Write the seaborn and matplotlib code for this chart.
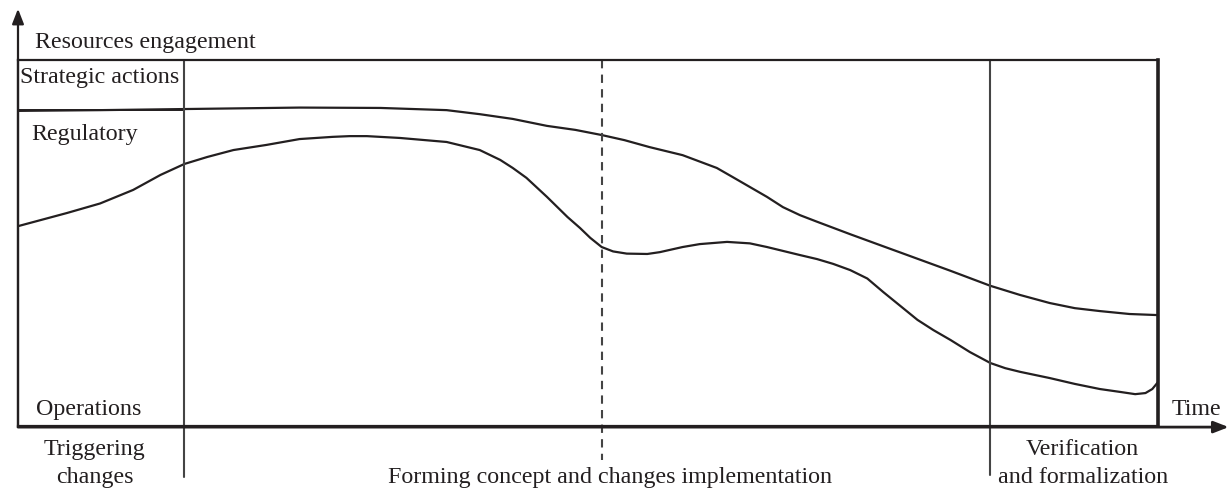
import numpy as np
import pandas as pd
import matplotlib
matplotlib.use("Agg")
import matplotlib.pyplot as plt
import seaborn as sns

# Curves (time 0..100, engagement 0..100 inside the box)
upper_t = [0, 7.2, 14.6, 24.7, 31.8, 37.6, 40.5, 43.4, 46.4, 48.9, 51.2, 53.2,
           55.4, 58.3, 61.3, 62.7, 64.2, 65.7, 67.1, 68.6, 70.1, 73.0, 75.9,
           77.4, 81.8, 85.3, 87.9, 90.5, 92.7, 94.9, 97.5, 100]
upper_v = [86.1, 86.3, 86.6, 87.0, 86.9, 86.3, 85.2, 83.9, 82.0, 80.9, 79.5, 78.1,
           76.2, 74.0, 70.5, 68.0, 65.3, 62.6, 59.8, 57.6, 55.8, 52.4, 49.1,
           47.4, 42.4, 38.3, 35.8, 33.6, 32.2, 31.4, 30.6, 30.3]

lower_t = [0, 4.3, 7.2, 10.1, 12.5, 14.6, 16.6, 18.9, 21.8, 24.7, 27.6, 29.1,
           30.6, 33.5, 37.6, 40.5, 42.3, 43.4, 44.6, 46.4, 48.2, 49.3, 50.2,
           51.2, 52.2, 53.4, 55.2, 56.3, 58.3, 59.8, 62.2, 64.2, 65.7, 68.6,
           70.1, 71.5, 73.0, 74.5, 75.9, 77.4, 78.9, 80.3, 81.8, 83.5, 85.3,
           86.6, 87.9, 90.5, 92.7, 94.9, 96.7, 98.0, 98.9, 99.5, 100]
lower_v = [54.6, 58.2, 60.8, 64.5, 68.6, 71.6, 73.5, 75.4, 76.8, 78.4, 79.0, 79.2,
           79.2, 78.7, 77.6, 75.4, 72.7, 70.5, 67.8, 62.6, 57.1, 54.1, 51.4,
           48.9, 47.7, 47.1, 47.0, 47.5, 48.9, 49.7, 50.3, 49.9, 48.9, 46.7,
           45.6, 44.3, 42.6, 40.3, 36.6, 32.8, 29.0, 26.2, 23.5, 20.2, 17.2,
           15.8, 14.8, 13.1, 11.5, 10.1, 9.3, 8.7, 9.0, 10.1, 12.0]

# Phase boundaries and labels
phase_bounds = [14.6, 51.2, 85.3]
phase_styles = ["-", "--", "-"]
phase_bottoms = [-13.9, -9.3, -13.4]
phase_lines_1 = ["Triggering", "", "Verification"]
phase_lines_2 = ["changes", "Forming concept and changes implementation",
                 "and formalization"]
phase_label_x = [6.7, 51.9, 93.4]

level_labels = ["Strategic actions", "Regulatory", "Operations"]
level_label_x = [0.2, 1.2, 1.6]
level_label_y = [95.3, 79.7, 4.5]

sns.set_style("white")
plt.rcParams["font.family"] = ["Liberation Serif", "DejaVu Serif"]

ink = "#231f20"
fig = plt.figure(figsize=(12.28, 4.88), dpi=100)
ax = fig.add_axes([18 / 1228, 62 / 488, 1140 / 1228, 366 / 488])
ax.set_xlim(0, 100)
ax.set_ylim(0, 100)

df_up = pd.DataFrame({"t": upper_t, "v": upper_v})
df_lo = pd.DataFrame({"t": lower_t, "v": lower_v})
sns.lineplot(data=df_up, x="t", y="v", ax=ax, color=ink, lw=1.6, sort=False,
             solid_joinstyle="round")
sns.lineplot(data=df_lo, x="t", y="v", ax=ax, color=ink, lw=1.6, sort=False,
             solid_joinstyle="round")

# box frame
for side in ["left", "top", "bottom"]:
    ax.spines[side].set_visible(True)
    ax.spines[side].set_linewidth(1.6)
    ax.spines[side].set_color(ink)
ax.spines["right"].set_linewidth(2.6)
ax.spines["right"].set_color(ink)
ax.set_xticks([])
ax.set_yticks([])
ax.set_xlabel("")
ax.set_ylabel("")

# strategic actions cell
ax.plot([0, phase_bounds[0]], [86.3, 86.3], color=ink, lw=1.4)

# phase boundaries
for xb, ls, yb in zip(phase_bounds, phase_styles, phase_bottoms):
    ax.plot([xb, xb], [100, yb], color="#444444", lw=1.5, ls=ls,
            dashes=(4, 3) if ls == "--" else (None, None), clip_on=False)

# axes arrows
ax.annotate("", xy=(0, 114), xytext=(0, 0), xycoords="data",
            arrowprops=dict(arrowstyle="-|>,head_length=0.9,head_width=0.35",
                            color=ink, lw=1.6, shrinkA=0, shrinkB=0),
            annotation_clip=False)
ax.annotate("", xy=(106.2, -0.3), xytext=(0, -0.3), xycoords="data",
            arrowprops=dict(arrowstyle="-|>,head_length=0.9,head_width=0.35",
                            color=ink, lw=2.0, shrinkA=0, shrinkB=0),
            annotation_clip=False)

fs = 17.3
ax.text(1.5, 104.8, "Resources engagement", fontsize=fs, color=ink,
        va="center", ha="left", clip_on=False)
for lab, x, y in zip(level_labels, level_label_x, level_label_y):
    ax.text(x, y, lab, fontsize=fs, color=ink, va="center", ha="left")
ax.text(101.2, 4.5, "Time", fontsize=fs, color=ink, va="center", ha="left",
        clip_on=False)
for l1, l2, x in zip(phase_lines_1, phase_lines_2, phase_label_x):
    if l1:
        ax.text(x, -6.5, l1, fontsize=fs, color=ink, va="center", ha="center",
                clip_on=False)
    ax.text(x, -14.0, l2, fontsize=fs, color=ink, va="center", ha="center",
            clip_on=False)

fig.savefig("out.png", dpi=100)
